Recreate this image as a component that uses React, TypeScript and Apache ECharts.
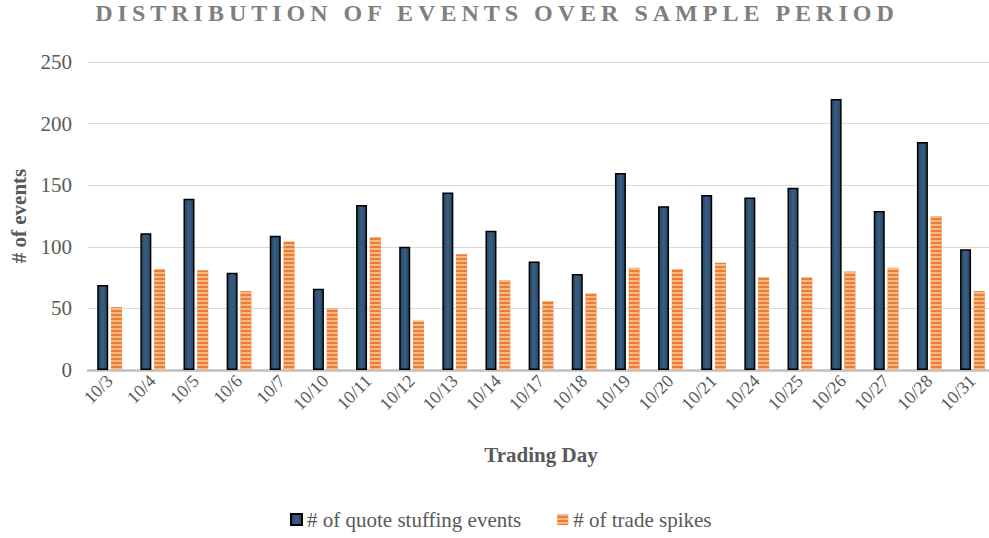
import React, { useEffect, useRef } from "react";
import * as echarts from "echarts";

const TITLE = "DISTRIBUTION OF EVENTS OVER SAMPLE PERIOD";
const days = ["10/3","10/4","10/5","10/6","10/7","10/10","10/11","10/12","10/13","10/14","10/17","10/18","10/19","10/20","10/21","10/24","10/25","10/26","10/27","10/28","10/31"];
const quoteStuffing = [69,111,139,79,109,66,134,100,144,113,88,78,160,133,142,140,148,220,129,185,98];
const tradeSpikes = [51,82,81,64,104,50,108,40,94,73,56,62,83,82,87,75,75,80,83,125,64];
const yTicks = { min: 0, max: 250, interval: 50 };

const FONT = "'Liberation Serif', 'Times New Roman', serif";

export default function App() {
  const ref = useRef<HTMLDivElement>(null);
  useEffect(() => {
    if (!ref.current) return;
    const chart = echarts.init(ref.current, null, { renderer: "svg" });
    const applySpacing = () => {
      if (!ref.current) return;
      ref.current.querySelectorAll("text").forEach((t) => {
        if (t.textContent === TITLE) {
          t.setAttribute("letter-spacing", "5px");
        }
      });
    };
    chart.on("finished", applySpacing);
    chart.setOption({
      animation: false,
      backgroundColor: "#ffffff",
      title: {
        text: TITLE,
        left: 497,
        top: 1,
        padding: 0,
        textAlign: "center",
        textStyle: { fontFamily: FONT, fontSize: 24, fontWeight: "bold", color: "#7f7f7f" },
      },
      grid: { left: 88, top: 62, width: 906, height: 308, containLabel: false, outerBoundsMode: "none" },
      legend: {
        top: 509,
        left: 290,
        padding: 0,
        icon: "rect",
        itemWidth: 11,
        itemHeight: 11,
        itemGap: 36,
        textStyle: { fontFamily: FONT, fontSize: 21, color: "#595959" },
        data: ["# of quote stuffing events", "# of trade spikes"],
      },
      xAxis: {
        type: "category",
        data: days,
        name: "Trading Day",
        nameLocation: "middle",
        nameGap: 74,
        nameTextStyle: { fontFamily: FONT, fontSize: 21, fontWeight: "bold", color: "#595959" },
        axisLine: { lineStyle: { color: "#bfbfbf", width: 2.5 } },
        axisTick: { show: false },
        axisLabel: { rotate: 45, margin: 8, fontFamily: FONT, fontSize: 18, color: "#595959", interval: 0 },
      },
      yAxis: {
        type: "value",
        min: yTicks.min,
        max: yTicks.max,
        interval: yTicks.interval,
        name: "# of events",
        nameLocation: "middle",
        nameGap: 59,
        nameTextStyle: { fontFamily: FONT, fontSize: 21, fontWeight: "bold", color: "#595959" },
        axisLine: { show: false },
        axisTick: { show: false },
        splitLine: { lineStyle: { color: "#d9d9d9", width: 1 } },
        axisLabel: { margin: 16, fontFamily: FONT, fontSize: 21, color: "#595959" },
      },
      series: [
        {
          name: "# of quote stuffing events",
          type: "bar",
          data: quoteStuffing,
          barWidth: 11,
          barGap: "25%",
          itemStyle: {
            color: new echarts.graphic.LinearGradient(0, 0, 1, 0, [
              { offset: 0, color: "#264562" },
              { offset: 0.5, color: "#385e84" },
              { offset: 1, color: "#264562" },
            ]),
            borderColor: "#000000",
            borderWidth: 1.5,
          },
        },
        {
          name: "# of trade spikes",
          type: "bar",
          data: tradeSpikes,
          barWidth: 11,
          itemStyle: {
            color: "#ed7d31",
            decal: {
              symbol: "rect",
              dashArrayX: [1, 0],
              dashArrayY: [2, 1.2],
              rotation: 0,
              color: "rgba(250, 200, 160, 0.8)",
            },
          },
        },
      ],
    });
    applySpacing();
    const t = setTimeout(applySpacing, 50);
    return () => {
      clearTimeout(t);
      chart.dispose();
    };
  }, []);
  return <div ref={ref} style={{ width: 989, height: 538, position: "absolute", left: 0, top: 0 }} />;
}
